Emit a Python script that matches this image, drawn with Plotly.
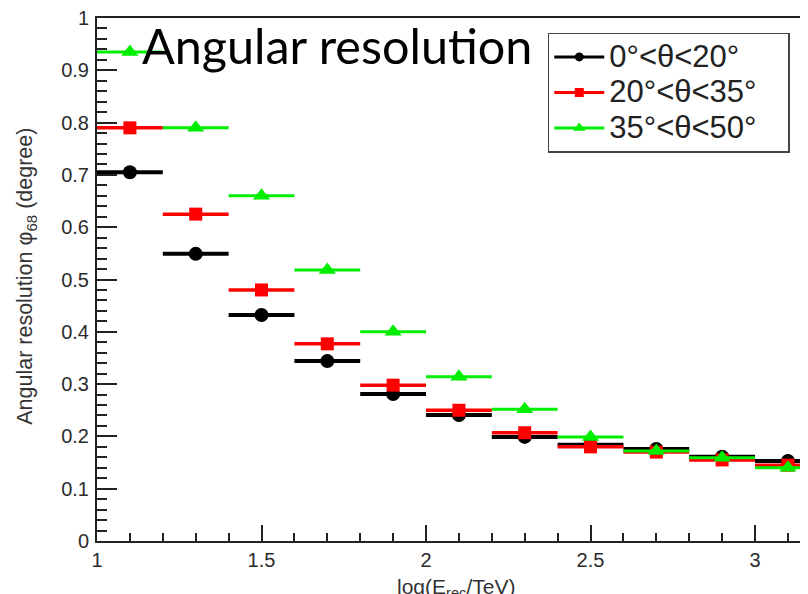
import plotly.graph_objects as go

x_centers = [1.1, 1.3, 1.5, 1.7, 1.9, 2.1, 2.3, 2.5, 2.7, 2.9, 3.1]
x_halfwidth = [0.1] * 11
res_0_20 = [0.705, 0.549, 0.432, 0.344, 0.281, 0.241, 0.199, 0.184, 0.176, 0.161, 0.153]
res_20_35 = [0.790, 0.625, 0.480, 0.377, 0.298, 0.250, 0.207, 0.180, 0.170, 0.155, 0.145]
res_35_50 = [0.935, 0.790, 0.660, 0.518, 0.400, 0.314, 0.252, 0.199, 0.172, 0.159, 0.140]

series = [
    ("0°<θ<20°", res_0_20, "black", "circle", 14, 4, 9),
    ("20°<θ<35°", res_20_35, "#ff0000", "square", 13, 3.5, 9),
    ("35°<θ<50°", res_35_50, "#00ee00", "triangle-up", 15, 3, 11),
]

fig = go.Figure()
for name, vals, col, sym, size, thick, lsize in series:
    fig.add_trace(go.Scatter(
        x=x_centers, y=vals, mode="markers", showlegend=False,
        marker=dict(color=col, symbol=sym, size=size),
        error_x=dict(type="data", array=x_halfwidth, color=col, thickness=thick, width=0),
    ))
pad = "\u00a0" * 3
for name, vals, col, sym, size, thick, lsize in series:
    fig.add_trace(go.Scatter(
        x=[None], y=[None], mode="lines+markers",
        name='<span style="font-size:31px">' + name + pad + "</span>",
        line=dict(color=col, width=3),
        marker=dict(color=col, symbol=sym, size=lsize),
    ))

tickfont = dict(family="Liberation Sans, Arial, sans-serif", size=20, color="#2b2b2b")
fig.update_layout(
    width=800, height=586,
    margin=dict(l=89, r=0, t=10, b=53, autoexpand=False),
    paper_bgcolor="white", plot_bgcolor="white",
    showlegend=True,
    legend=dict(
        x=0.634, y=0.972, xanchor="left", yanchor="top",
        bgcolor="white", bordercolor="#444", borderwidth=1.5,
        font=dict(family="Liberation Sans, Arial, sans-serif", size=25, color="#222"),
        tracegroupgap=0, itemsizing="trace", itemwidth=50,
    ),
    xaxis=dict(
        range=[1, 3.161], showgrid=False, zeroline=False,
        showline=True, linecolor="#222", linewidth=2, mirror=True,
        ticks="inside", ticklen=16, tickwidth=2, tickcolor="#222",
        tick0=1, dtick=0.5, tickfont=tickfont, ticklabeloverflow="allow",
        minor=dict(ticks="inside", ticklen=8, tickwidth=2, tickcolor="#222", dtick=0.1, showgrid=False),
    ),
    yaxis=dict(
        range=[0, 1], showgrid=False, zeroline=False,
        showline=True, linecolor="#222", linewidth=2,
        ticks="inside", ticklen=20, tickwidth=2, tickcolor="#222",
        tick0=0, dtick=0.1, tickfont=tickfont, ticklabelstandoff=2,
        ticklabeloverflow="allow",
        minor=dict(ticks="inside", ticklen=10, tickwidth=2, tickcolor="#222", dtick=0.02, showgrid=False),
    ),
    annotations=[
        dict(text="Angular resolution", xref="paper", yref="paper", x=0.06, y=1.0,
             xanchor="left", yanchor="top", yshift=4, showarrow=False,
             font=dict(family="Lato, sans-serif", size=48.5, color="black")),
        dict(text="log(E<sub>rec</sub>/TeV)", xref="paper", yref="paper", x=0.505, y=-0.062,
             xanchor="center", yanchor="top", showarrow=False,
             font=dict(family="Liberation Sans, Arial, sans-serif", size=21, color="#333")),
        dict(text="Angular resolution φ<sub>68</sub> (degree)", xref="paper", yref="paper",
             x=-0.0985, y=0.507, xanchor="center", yanchor="middle", textangle=-90,
             showarrow=False,
             font=dict(family="Liberation Sans, Arial, sans-serif", size=21.5, color="#333")),
    ],
)

fig.write_html("out.html")
